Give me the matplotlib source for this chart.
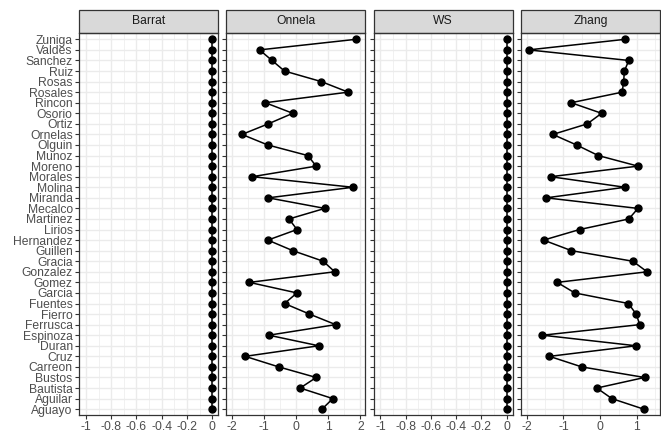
import numpy as np
import matplotlib.pyplot as plt
from matplotlib.patches import Rectangle
from matplotlib.ticker import MultipleLocator

plt.rcParams['font.family'] = ['Liberation Sans', 'DejaVu Sans']

# names from bottom to top
names = ["Aguayo", "Aguilar", "Bautista", "Bustos", "Carreon", "Cruz", "Duran",
         "Espinoza", "Ferrusca", "Fierro", "Fuentes", "Garcia", "Gomez", "Gonzalez",
         "Gracia", "Guillen", "Hernandez", "Lirios", "Martinez", "Mecalco", "Miranda",
         "Molina", "Morales", "Moreno", "Munoz", "Olguin", "Ornelas", "Ortiz",
         "Osorio", "Rincon", "Rosales", "Rosas", "Ruiz", "Sanchez", "Valdes", "Zuniga"]

barrat = [0.0] * len(names)
ws = [0.0] * len(names)

onnela = [0.80, 1.14, 0.12, 0.62, -0.55, -1.60, 0.70, -0.86, 1.23, 0.41,
          -0.37, 0.02, -1.47, 1.20, 0.84, -0.11, -0.89, 0.02, -0.23, 0.89,
          -0.88, 1.77, -1.38, 0.62, 0.36, -0.89, -1.70, -0.88, -0.11, -0.97,
          1.62, 0.78, -0.37, -0.76, -1.15, 1.86]

zhang = [1.19, 0.32, -0.09, 1.21, -0.50, -1.38, 0.98, -1.57, 1.08, 0.98,
         0.77, -0.69, -1.17, 1.28, 0.89, -0.78, -1.54, -0.56, 0.78, 1.03,
         -1.47, 0.68, -1.35, 1.03, -0.05, -0.64, -1.29, -0.35, 0.04, -0.79,
         0.60, 0.64, 0.66, 0.78, -1.95, 0.68]

panels = [
    ("Barrat", barrat, (-1.055, 0.048), 0.2, 0.1),
    ("Onnela", onnela, (-2.19, 2.16), 1, 0.5),
    ("WS", ws, (-1.055, 0.048), 0.2, 0.1),
    ("Zhang", zhang, (-2.16, 1.63), 1, 0.5),
]

fig, axes = plt.subplots(1, 4, figsize=(6.61, 4.34), dpi=100, sharey=True)
fig.subplots_adjust(left=0.1195, right=0.9985, bottom=0.0438, top=0.924, wspace=0.058)

y = np.arange(len(names))
border = '#333333'
strip_h = 23 / 382

for ax, (title, vals, lims, major, minor) in zip(axes, panels):
    ax.set_facecolor('white')
    ax.plot(vals, y, color='black', lw=1.1, marker='o', markersize=5, zorder=3)
    ax.set_xlim(*lims)
    ax.set_ylim(-0.55, 35.6)
    ax.xaxis.set_major_locator(MultipleLocator(major))
    ax.xaxis.set_minor_locator(MultipleLocator(minor))
    ax.grid(which='major', color='#EBEBEB', lw=1.0, zorder=0)
    ax.grid(which='minor', axis='x', color='#EBEBEB', lw=0.5, zorder=0)
    ax.set_axisbelow(True)
    for s in ax.spines.values():
        s.set_color(border)
        s.set_linewidth(0.9)
    ax.tick_params(axis='both', which='major', length=3, width=0.8, color=border,
                   labelcolor='#4D4D4D', labelsize=8.7, pad=1.5)
    ax.tick_params(axis='x', which='minor', length=0)
    ax.xaxis.set_major_formatter(plt.FuncFormatter(lambda v, p: ('%g' % round(v, 2)).replace('-0', '-0') if abs(v) > 1e-9 else '0'))
    # strip
    ax.add_patch(Rectangle((0, 1), 1, strip_h, transform=ax.transAxes, clip_on=False,
                           facecolor='#D9D9D9', edgecolor=border, lw=0.9))
    ax.text(0.5, 1 + strip_h / 2, title, transform=ax.transAxes, ha='center', va='center',
            fontsize=8.7, color='#1A1A1A')

axes[0].set_yticks(y)
axes[0].set_yticklabels(names)
for lab in axes[0].get_yticklabels():
    lab.set_linespacing(0.8)

fig.savefig('out.png', dpi=100)
